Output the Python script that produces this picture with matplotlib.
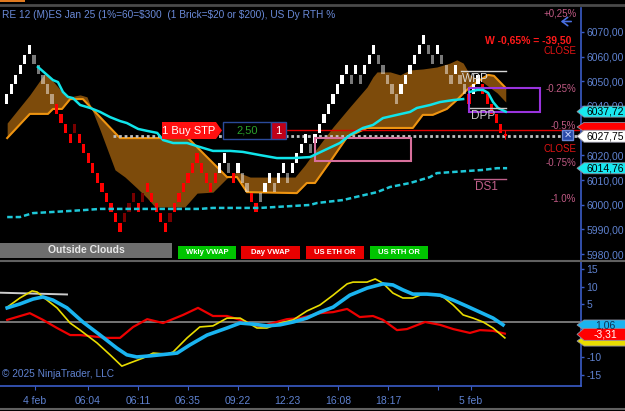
import matplotlib
matplotlib.use("Agg")
import matplotlib.pyplot as plt
import numpy as np
from matplotlib.patches import Polygon, Rectangle, FancyArrowPatch
from matplotlib.transforms import IdentityTransform

plt.rcParams['font.family'] = ['Liberation Sans', 'DejaVu Sans']

W, H = 625, 411

# ---------------- data ----------------
# renko bricks: top price of each brick + colour code
# W = up brick, G = grey pullback, R = red, D = dark red
brick_top = [6044.75, 6048.75, 6052.75, 6056.75, 6060.75, 6064.75, 6060.75, 6056.75, 6052.75, 6048.75,
             6044.75, 6040.75, 6036.75, 6032.75, 6028.75, 6032.75, 6028.75, 6024.75, 6020.75, 6016.75,
             6012.75, 6008.75, 6004.75, 6000.75, 5996.75, 5992.75, 5996.75, 6000.75, 6004.75, 6000.75,
             6004.75, 6008.75, 6004.75, 6000.75, 5996.75, 5992.75, 5996.75, 6000.75, 6004.75, 6008.75,
             6012.75, 6016.75, 6020.75, 6016.75, 6012.75, 6008.75, 6012.75, 6016.75, 6020.75, 6016.75,
             6012.75, 6016.75, 6012.75, 6008.75, 6004.75, 6000.75, 6004.75, 6008.75, 6012.75, 6008.75,
             6012.75, 6016.75, 6012.75, 6016.75, 6020.75, 6024.75, 6028.75, 6024.75, 6028.75, 6032.75,
             6036.75, 6040.75, 6044.75, 6048.75, 6052.75, 6056.75, 6052.75, 6056.75, 6052.75, 6056.75,
             6060.75, 6064.75, 6060.75, 6056.75, 6052.75, 6048.75, 6044.75, 6048.75, 6052.75, 6056.75,
             6060.75, 6064.75, 6068.75, 6064.75, 6060.75, 6064.75, 6060.75, 6056.75, 6052.75, 6056.75,
             6052.75, 6048.75, 6044.75, 6048.75, 6052.75, 6048.75, 6044.75, 6040.75, 6036.75, 6032.75,
             6028.75]
brick_col = ("WWWWWWGGGGGRRRRDRRRRRRRRRRDDDRDRRRRRDRRRRRRRRRR"
             "WWGRWGGRRGWWGWWGWWWWGWWWWWWWWGWGWWWGGGGGWWWWWW"
             "GGWGGGWGGRWWRRRRRR")
last_close = 6027.75
brick_size = 4.0

# cloud: orange edge and the other span
orange_x = [0.1, 5.1, 9.1, 10.2, 12.2, 14.0, 16.8, 25.0, 40.0, 48.6, 50.8, 53.0, 64.0, 66.2,
            68.0, 71.3, 75.1, 79.5, 89.6, 91.8, 94.0, 97.1, 99.3, 101.5, 104.4, 106.2, 107.5, 110.1]
orange_y = [6027.0, 6036.8, 6036.8, 6038.8, 6038.8, 6042.8, 6042.8, 6027.0, 6027.0, 6011.2,
            6011.2, 6005.1, 6004.7, 6008.8, 6008.8, 6017.3, 6027.4, 6031.1, 6031.1, 6036.4,
            6036.4, 6038.8, 6042.4, 6046.5, 6050.5, 6052.6, 6052.2, 6047.3]
span_x = [0.1, 5.1, 7.4, 8.5, 9.6, 12.4, 14.0, 16.2, 17.7, 20.6, 23.9, 26.1, 28.7, 31.0, 32.7,
          39.3, 42.0, 45.5, 48.6, 50.8, 53.7, 63.6, 65.8, 68.5, 72.0, 75.7, 79.5, 80.8, 81.7,
          84.6, 86.8, 89.0, 91.8, 94.9, 97.8, 99.3, 100.7, 102.2, 104.4, 108.2, 110.1]
span_y = [6033.1, 6044.5, 6050.5, 6053.4, 6051.4, 6045.3, 6043.7, 6044.5, 6043.7, 6030.3,
          6014.1, 6011.2, 6006.8, 6002.7, 5999.1, 5999.1, 6004.7, 6005.1, 6010.8, 6013.3,
          6011.2, 6011.2, 6016.1, 6023.0, 6031.5, 6039.6, 6047.7, 6051.8, 6053.8, 6053.8,
          6052.6, 6054.6, 6055.0, 6055.8, 6057.4, 6058.7, 6057.4, 6052.6, 6050.5, 6045.3, 6041.6]

# solid cyan average (two pieces)
trend1_x = [6.9, 8.9, 10.2, 11.3, 12.4, 13.5, 14.6, 16.2, 18.4, 20.6, 22.8, 25.0, 26.5, 29.0,
            31.0, 33.2, 34.5, 36.7, 39.8, 42.6, 45.5, 49.3, 52.1, 55.9, 59.6, 63.2, 66.9, 70.7,
            73.5, 75.7, 78.6, 80.8, 83.0, 86.1, 89.0, 90.5, 93.4, 95.6, 98.5, 100.7]
trend1_y = [6055.8, 6052.6, 6050.5, 6049.7, 6045.7, 6043.7, 6043.2, 6040.4, 6039.2, 6037.6,
            6035.5, 6033.9, 6033.1, 6030.7, 6029.9, 6029.1, 6026.2, 6025.0, 6025.0, 6023.4,
            6021.8, 6021.8, 6021.4, 6020.1, 6018.9, 6018.9, 6019.3, 6022.6, 6025.0, 6028.2,
            6031.1, 6032.3, 6035.1, 6036.4, 6037.6, 6039.2, 6040.4, 6041.6, 6042.4, 6042.8]
trend2_x = [102.2, 103.8, 105.1, 106.2, 107.3, 108.4, 110.1]
trend2_y = [6045.7, 6046.5, 6046.5, 6045.3, 6041.6, 6039.2, 6037.7]

# dashed vwap
vwap_x = [0.1, 2.9, 5.8, 9.6, 13.3, 16.8, 20.6, 42.6, 45.5, 55.9, 66.9, 68.5, 74.2, 77.9,
          81.7, 84.6, 89.0, 93.4, 94.9, 105.1, 108.2, 110.4]
vwap_y = [5995.0, 5995.0, 5996.6, 5997.0, 5997.4, 5997.8, 5998.3, 5998.3, 5998.7, 5998.7,
          5999.9, 6000.7, 6001.9, 6003.5, 6005.1, 6007.2, 6008.8, 6011.2, 6012.8, 6014.1,
          6014.8, 6014.8]

# oscillator panel
osc_cyan_x = [0.1, 2.9, 5.8, 8.0, 10.2, 13.3, 16.8, 20.6, 24.3, 26.5, 28.7, 31.6, 35.4, 37.6,
              40.4, 44.2, 48.6, 51.5, 54.3, 57.4, 60.3, 63.2, 66.2, 69.1, 72.0, 75.7, 79.5,
              83.0, 85.2, 87.4, 89.6, 92.7, 95.6, 98.5, 101.5, 104.4, 107.3, 109.5]
osc_cyan_y = [4.0, 5.1, 6.5, 7.1, 6.2, 4.0, 0.0, -3.7, -7.4, -9.3, -9.9, -9.6, -9.1, -8.8,
              -6.5, -3.7, -1.7, -0.3, -0.6, -1.1, -0.8, 0.0, 1.1, 2.8, 4.2, 7.6, 9.6, 10.8,
              10.5, 9.1, 7.9, 7.9, 7.6, 6.2, 4.5, 2.8, 1.1, -0.8]
osc_yel_x = [0.1, 2.9, 5.6, 6.7, 8.0, 11.1, 14.0, 16.2, 19.9, 22.8, 25.4, 27.2, 30.1, 32.3,
             35.4, 36.7, 39.8, 42.6, 45.5, 48.6, 51.5, 55.2, 57.4, 60.3, 63.2, 66.2, 69.1,
             72.0, 75.1, 76.4, 79.5, 81.3, 83.0, 85.2, 87.4, 89.6, 91.8, 94.0, 96.3, 98.5,
             100.7, 102.9, 105.1, 107.3, 109.9]
osc_yel_y = [4.2, 6.8, 8.8, 8.5, 7.1, 4.0, -0.3, -2.3, -5.9, -9.3, -12.5, -11.6, -10.2, -8.8,
             -9.1, -8.5, -4.5, -1.4, -1.1, 1.1, 1.1, -1.7, -1.7, -0.3, 0.6, 3.1, 4.8, 7.6,
             10.8, 11.3, 11.3, 12.2, 11.0, 8.2, 6.8, 6.8, 7.9, 7.9, 7.1, 4.8, 2.0, 1.1, 0.0,
             -1.7, -4.5]
osc_red_x = [0.1, 5.1, 8.0, 11.1, 14.0, 16.2, 19.9, 22.1, 25.0, 27.9, 31.0, 34.5, 38.9, 42.2,
             45.5, 48.6, 51.5, 55.9, 58.7, 61.8, 64.7, 69.1, 72.0, 75.1, 77.9, 80.8, 83.0,
             86.1, 88.3, 92.3, 95.6, 98.5, 102.2, 104.4, 107.3, 109.9]
osc_red_y = [0.6, 2.5, 0.6, -1.7, -3.7, -3.7, -4.2, -4.5, -4.5, -1.4, 0.8, -0.3, 2.0, 4.0,
             1.7, 1.7, 0.6, -1.4, -0.3, 0.8, 1.1, 2.5, 2.8, 3.7, 1.4, 1.7, 0.6, -2.3, -2.0,
             0.0, -0.8, -2.0, -3.1, -2.3, -2.5, -3.3]
osc_ref_x = [-1.5, 13.3]
osc_ref_y = [8.3, 7.8]

# levels / labels
stop_price = 6030.25
pct_labels = ['+0,25%', '-0.25%', '-0.5%', '-0.75%', '-1.0%']
pct_levels = [6077.3, 6046.9, 6031.9, 6016.9, 6002.3]
close_levels = [6062.25, 6022.75]
pivot_names = ['WPP', 'DPP', 'DS1']
pivot_levels = [6054.25, 6039.25, 6010.5]
pivot_start = [100.2, 102.2, 103.1]
pivot_end = 110.1
pink_zone = (68.0, 89.2, 6017.7, 6027.0)
purple_zone = (102.0, 117.6, 6037.6, 6047.3)

price_ticks = [5980, 5990, 6000, 6010, 6020, 6040, 6050, 6060, 6070]
osc_ticks = [-15, -10, 5, 10, 15]
time_pos = [6.2, 17.9, 29.0, 40.0, 51.0, 62.0, 73.1, 84.1, 95.1, 102.4]
time_labels = ['4 feb', '06:04', '06:11', '06:35', '09:22', '12:23', '16:08', '18:17', '', '5 feb']
title = "RE 12 (M)ES Jan 25 (1%=60=$300  (1 Brick=$20 or $200), US Dy RTH %"

AX_BLUE = '#3a5cc8'
TXT_BLUE = '#5f82d0'
PCT_COL = '#c05a84'

# ---------------- figure ----------------
fig = plt.figure(figsize=(W / 100, H / 100), dpi=100, facecolor='black')
ax1 = fig.add_axes([0, (H - 260) / H, 581 / W, 252 / H], facecolor='black')
ax2 = fig.add_axes([0, (H - 386) / H, 581 / W, 125 / H], facecolor='black')

for ax in (ax1, ax2):
    for s in ['top', 'left', 'bottom']:
        ax.spines[s].set_visible(False)
    ax.spines['right'].set_color(AX_BLUE)
    ax.spines['right'].set_linewidth(1.2)
    ax.yaxis.tick_right()
    ax.tick_params(axis='y', colors=AX_BLUE, labelcolor=TXT_BLUE, length=2.5,
                   width=1, labelsize=7.5, pad=1.5)
    ax.set_xlim(-1.48, 126.7)

ax1.set_ylim(5977.6, 6079.7)
ax1.set_xticks([])
ax1.set_yticks(price_ticks)
ax1.set_yticklabels([f"{v:.2f}".replace('.', ',') for v in price_ticks])

ax2.set_ylim(-18.13, 17.28)
ax2.set_yticks(osc_ticks)
ax2.set_yticklabels([str(v) for v in osc_ticks])
ax2.spines['bottom'].set_visible(True)
ax2.spines['bottom'].set_color(AX_BLUE)
ax2.spines['bottom'].set_linewidth(1.2)
ax2.set_xticks(time_pos)
ax2.set_xticklabels(time_labels)
ax2.tick_params(axis='x', colors=AX_BLUE, labelcolor=TXT_BLUE, length=3, labelsize=7.5, pad=4)

# cloud: both edges evaluated on the union of their own vertices
cx = np.array(sorted(set(span_x) | set(orange_x)))
ax1.fill_between(cx, np.interp(cx, span_x, span_y), np.interp(cx, orange_x, orange_y),
                 color='#7d4b0b', lw=0, zorder=1)
ax1.plot(orange_x, orange_y, color='#ee9410', lw=1.5, zorder=2)

# bricks
colmap = {'W': ('white', 1.0), 'G': ('white', 0.48), 'R': ('#ff0000', 1.0), 'D': ('#780000', 1.0)}
for i, (top, c) in enumerate(zip(brick_top, brick_col)):
    fc, a = colmap[c]
    if i == len(brick_top) - 1:
        bottom = last_close
    else:
        bottom = top - brick_size + 0.2
    ax1.bar(i, top - bottom, bottom=bottom, width=0.72, color=fc, alpha=a, lw=0, zorder=3)
ax1.vlines(len(brick_top) - 1, last_close - 1.3, brick_top[-1] + 1.6, color='#ff0000', lw=0.8, zorder=3)

# lines
ax1.plot(vwap_x, vwap_y, color='#1ec8d8', lw=1.8, ls=(0, (2.2, 1.2)), zorder=4)
ax1.plot(trend1_x, trend1_y, color='#10e4ea', lw=1.8, zorder=4)
ax1.plot(trend2_x, trend2_y, color='#10e4ea', lw=1.8, zorder=4)

# order / close lines
ax1.plot([61.6, 126.7], [stop_price, stop_price], color='#e00000', lw=1, zorder=2)
ax1.plot([23.5, 126.7], [last_close, last_close], color='#c0c0c0', lw=2, ls=(0, (1, 1)), zorder=2)

# zones
x0, x1, y0, y1 = pink_zone
ax1.add_patch(Rectangle((x0, y0), x1 - x0, y1 - y0, fill=False, ec='#d8709c', lw=1.5, zorder=3))
x0, x1, y0, y1 = purple_zone
ax1.add_patch(Rectangle((x0, y0), x1 - x0, y1 - y0, fill=False, ec='#9933dd', lw=1.5, zorder=3))

# pivots
piv_col = ['#d8d8d8', '#c8c8c8', '#c0608a']
for name, lev, xs, c in zip(pivot_names, pivot_levels, pivot_start, piv_col):
    ax1.plot([xs, pivot_end], [lev, lev], color=c, lw=1, zorder=5)
    ax1.text(xs + 0.3, lev - 0.7, name, color=c, fontsize=8.5, va='top', ha='left', zorder=6)

# percent labels on the right of the price panel
ytr = ax1.get_yaxis_transform()
for lab, lev in zip(pct_labels, pct_levels):
    ax1.text(0.992, lev, lab, transform=ytr, color=PCT_COL, fontsize=7, ha='right', va='center')
for lev in close_levels:
    ax1.text(0.992, lev, 'CLOSE', transform=ytr, color='#e01414', fontsize=7, ha='right', va='center')
ax1.text(0.984, 6066.4, 'W -0,65% = -39,50', transform=ytr, color='#ff1a1a', fontsize=7.5,
         ha='right', va='center', fontweight='bold')

# oscillator
ax2.axhline(0, color='#8a8a8a', lw=1.2, zorder=1)
ax2.plot(osc_ref_x, osc_ref_y, color='#cccccc', lw=1.4, zorder=2)
ax2.plot(osc_red_x, osc_red_y, color='#ee0000', lw=1.6, zorder=3)
ax2.plot(osc_yel_x, osc_yel_y, color='#e8dc00', lw=1.2, zorder=4)
ax2.plot(osc_cyan_x, osc_cyan_y, color='#1ab4f0', lw=2.6, zorder=5)


# ---------------- overlays in pixel space ----------------
def px_rect(x0, y0, x1, y1, **kw):
    r = Rectangle((x0, H - y1), x1 - x0, y1 - y0, transform=IdentityTransform(), **kw)
    fig.add_artist(r)


def px_text(x, y, s, **kw):
    fig.text(x / W, 1 - y / H, s, **kw)


def px_line(xs, ys, **kw):
    fig.add_artist(plt.Line2D(xs, [H - y for y in ys], transform=IdentityTransform(), **kw))


def tag(ax, value, text, fc, tc, h=11):
    yp = ax.transData.transform((0, value))[1]
    pts = [(577, yp), (584, yp + h / 2), (626, yp + h / 2), (626, yp - h / 2), (584, yp - h / 2)]
    fig.add_artist(Polygon(pts, closed=True, transform=IdentityTransform(), fc=fc,
                           ec='#9090a0', lw=0.6, zorder=20))
    if text:
        fig.text(605 / W, yp / H, text, color=tc, fontsize=7.5, ha='center', va='center', zorder=21)


# frame lines
px_line([0, W], [5, 5], color='#4a4a4a', lw=2)
px_rect(0, 0, 25, 1.5, fc='#e07a20', lw=0)
px_line([0, W], [260.5, 260.5], color='#606060', lw=1.5)
px_line([0, W], [409, 409], color='#606060', lw=1.5)

# blue arrow near the top-right corner
fig.add_artist(FancyArrowPatch((574, H - 21.5), (558, H - 21.5), transform=IdentityTransform(),
                               arrowstyle='->,head_length=4,head_width=3', color='#4a6fe0', lw=1.2))

px_text(2, 15, title, color='#6a8ad8', fontsize=7.3, va='center', ha='left')
px_text(2, 374, '\u00a9 2025 NinjaTrader, LLC', color=TXT_BLUE, fontsize=7.3, va='center', ha='left')

# bottom indicator buttons
px_rect(0, 243, 172, 258, fc='#6e6e6e', lw=0)
px_text(86, 250, 'Outside Clouds', color='#e8e8e8', fontsize=7.5, fontweight='bold', ha='center', va='center')
buttons = [('Wkly VWAP', 178, 236, '#00c400'), ('Day VWAP', 241, 300, '#e80000'),
           ('US ETH OR', 306, 364, '#e80000'), ('US RTH OR', 370, 428, '#00c400')]
for lab, bx0, bx1, bc in buttons:
    px_rect(bx0, 246, bx1, 259, fc=bc, lw=0)
    px_text((bx0 + bx1) / 2, 252, lab, color='white', fontsize=5.5, fontweight='bold', ha='center', va='center')

# chart trader order marker
fig.add_artist(Polygon([(162, H - 122), (216, H - 122), (222, H - 130.5), (216, H - 139), (162, H - 139)],
                       closed=True, transform=IdentityTransform(), fc='#ff1010', lw=0, zorder=10))
px_text(189, 130.5, '1 Buy STP', color='white', fontsize=8, ha='center', va='center', zorder=11)
px_rect(223, 122, 271, 139, fc='black', ec='#2a4a9a', lw=1, zorder=10)
px_text(247, 130.5, '2,50', color='#2aa02a', fontsize=8, ha='center', va='center', zorder=11)
px_rect(271, 122, 286, 139, fc='#c00018', ec='#2a4a9a', lw=1, zorder=10)
px_text(278.5, 130.5, '1', color='white', fontsize=8, ha='center', va='center', zorder=11)
px_rect(562, 130, 573, 140, fc='#2a4aa8', ec='#6a88d8', lw=1, zorder=10)
px_text(567.5, 135, '\u2715', color='#c8d4ff', fontsize=7, ha='center', va='center',
        family='DejaVu Sans', zorder=11)

# value tags (the stop tag is hidden behind the close tag, as in the source)
tag(ax1, 6037.72, '6037,72', '#18e8f0', 'black')
tag(ax1, 6031.5, '', '#ff0000', 'white', h=9)
tag(ax1, 6027.75, '6027,75', 'white', 'black', h=12)
tag(ax1, 6014.76, '6014,76', '#18e8f0', 'black')
tag(ax2, -0.85, '1,06', '#1ab4f0', '#103050', h=10)
tag(ax2, -5.4, '', '#e8dc00', 'black', h=10)
tag(ax2, -3.5, '-3,31', '#ff0000', 'white', h=12)

fig.savefig('out.png', dpi=100, facecolor='black')
